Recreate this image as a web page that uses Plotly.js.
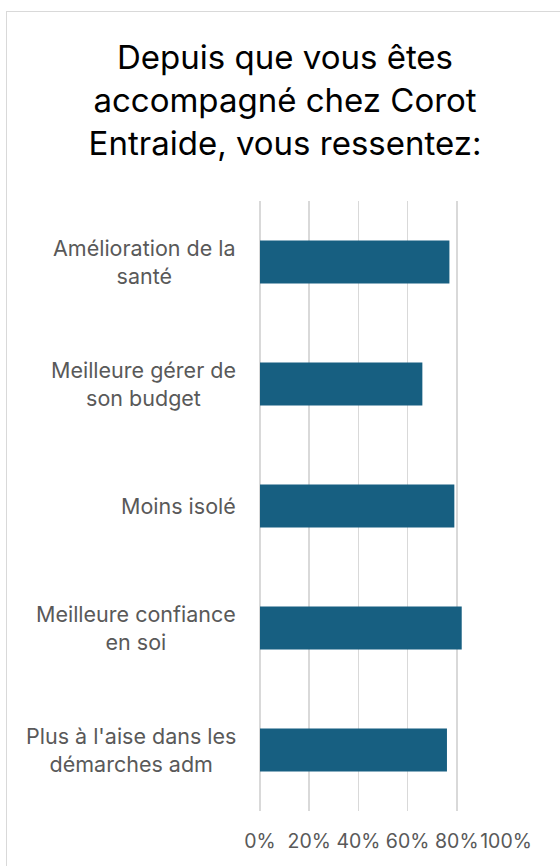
<!DOCTYPE html>
<html>
<head>
<meta charset="utf-8">
<script src="https://cdn.plot.ly/plotly-3.0.1.min.js"></script>
<style>
  body { margin: 0; overflow: hidden; background: #fff; }
  #frame { position: absolute; left: 6px; top: 11px; width: 620px; height: 920px;
           border: 1.5px solid #d9d9d9; box-sizing: border-box; }
  #chart { position: absolute; left: 0; top: 0; width: 560px; height: 866px; }
</style>
</head>
<body>
<div id="frame"></div>
<div id="chart"></div>
<script>
const categories = [
    "Amélioration de la<br>santé",
    "Meilleure gérer de<br>son budget",
    "Moins isolé",
    "Meilleure confiance<br>en soi",
    "Plus à l'aise dans les<br>démarches adm"
];
const shares = [0.77, 0.66, 0.79, 0.82, 0.76];
const tickvals = [0, 0.2, 0.4, 0.6, 0.8, 1];
const ticktext = ["0%", "20%", "40%", "60%", "80%", "100%"];

const FONT = "Inter, 'Noto Sans', sans-serif";

const data = [
    {
        x: shares,
        y: categories,
        type: "bar",
        orientation: "h",
        marker: { color: "#175f81" },
        hoverinfo: "none"
    }
];

const labels = categories.map(c => ({
    xref: "paper", yref: "y",
    x: 0, y: c,
    xanchor: "right", yanchor: "middle",
    xshift: -22,
    text: c,
    align: "center",
    showarrow: false,
    font: { family: FONT, size: 21.5, color: "#595959" }
}));

const layout = {
    width: 560,
    height: 866,
    title: {
        text: "Depuis que vous êtes<br>accompagné chez Corot<br>Entraide, vous ressentez:",
        font: { family: FONT, size: 33, color: "#000000" },
        x: 0.509, xanchor: "center",
        y: 0.92, yanchor: "middle"
    },
    margin: { l: 260, r: 54, t: 201, b: 55 },
    paper_bgcolor: "rgba(0,0,0,0)",
    plot_bgcolor: "rgba(0,0,0,0)",
    bargap: 0.647,
    showlegend: false,
    xaxis: {
        range: [0, 1],
        tickvals: tickvals,
        ticktext: ticktext,
        tickangle: 0,
        showgrid: true,
        gridcolor: "#d9d9d9",
        gridwidth: 1.6,
        zeroline: true,
        zerolinecolor: "#d9d9d9",
        zerolinewidth: 1.6,
        showline: false,
        ticks: "",
        ticklabelstandoff: 16,
        tickfont: { family: FONT, size: 19.5, color: "#595959" },
        fixedrange: true
    },
    yaxis: {
        autorange: "reversed",
        showticklabels: false,
        showgrid: false,
        zeroline: false,
        showline: false,
        ticks: "",
        fixedrange: true
    },
    annotations: labels
};

Plotly.newPlot("chart", data, layout, { displayModeBar: false, staticPlot: true });
</script>
</body>
</html>
